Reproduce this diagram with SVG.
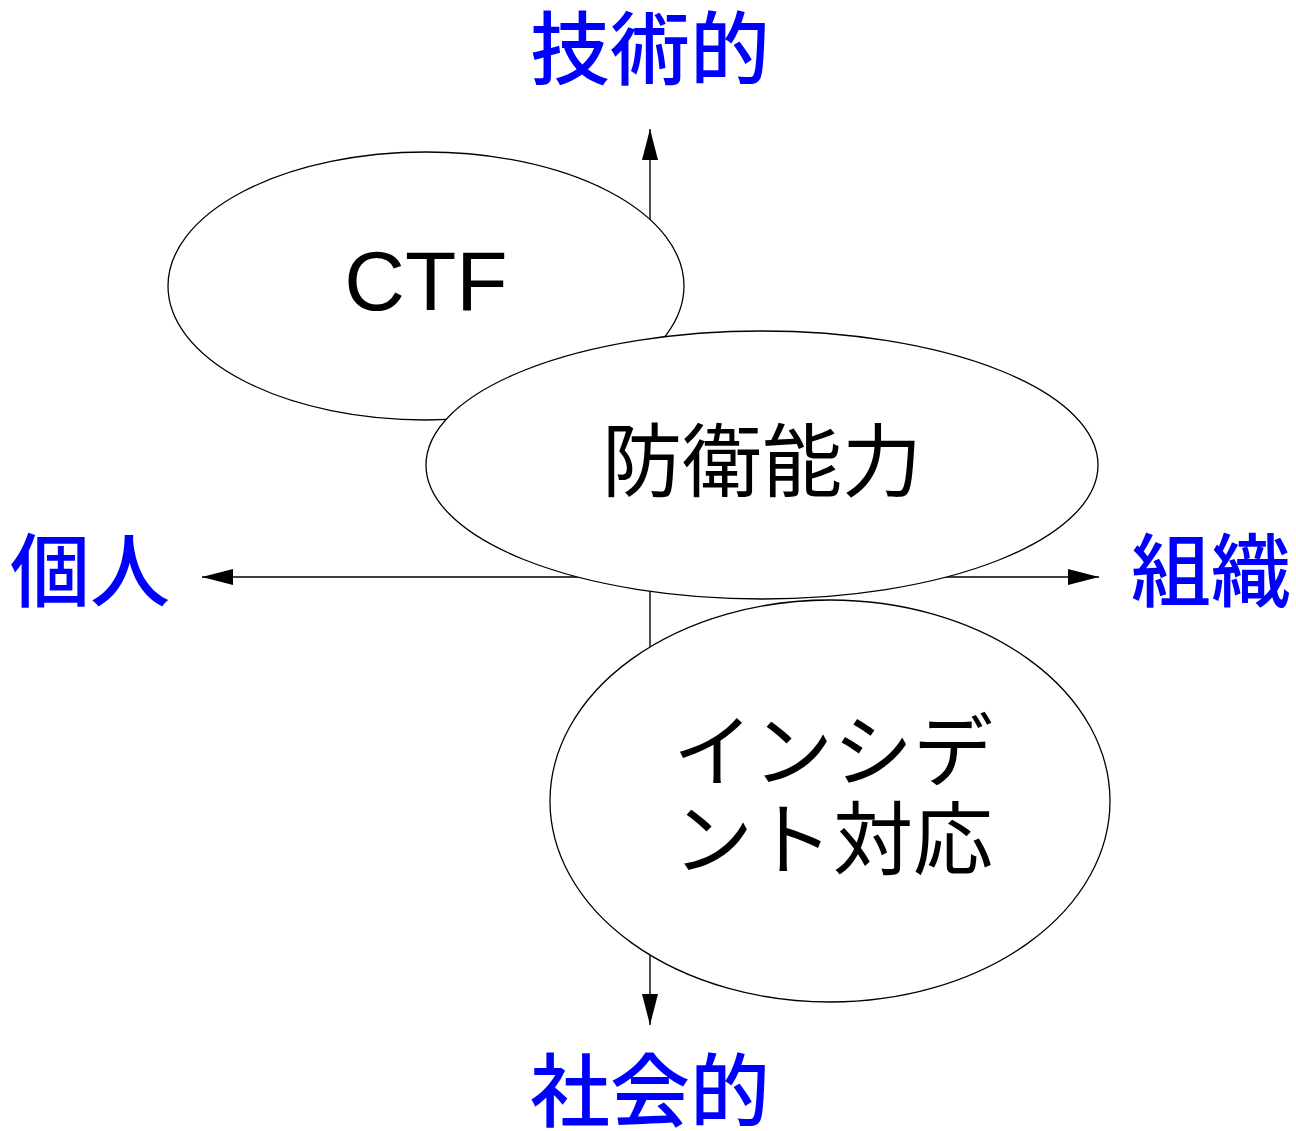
<svg xmlns="http://www.w3.org/2000/svg" width="1296" height="1131" viewBox="0 0 1296 1131">
<style>
.axis{stroke:#000;stroke-width:1.4;fill:none}
.node{fill:#fff;stroke:#000;stroke-width:1.3}
.lbl{font-family:"Noto Sans CJK JP","Liberation Sans",sans-serif;font-size:80px;fill:#000;text-anchor:middle}
.axl{font-family:"Noto Sans CJK JP","Liberation Sans",sans-serif;font-size:80px;font-weight:500;fill:#0000ff;text-anchor:middle}
.lat{font-family:"Liberation Sans",Arial,sans-serif;font-size:84px;fill:#000;text-anchor:middle}
</style>
<defs>
<marker id="ah" viewBox="0 0 31 16" refX="31" refY="8" markerWidth="31" markerHeight="16" markerUnits="userSpaceOnUse" orient="auto">
<path d="M0,0 L31,8 L0,16 Z" fill="#000"/>
</marker>
</defs>
<g id="connectors">
<line class="axis" x1="650" y1="577" x2="650" y2="129" marker-end="url(#ah)"/>
<line class="axis" x1="650" y1="577" x2="650" y2="1025" marker-end="url(#ah)"/>
<line class="axis" x1="650" y1="577" x2="202" y2="577" marker-end="url(#ah)"/>
<line class="axis" x1="650" y1="577" x2="1099" y2="577" marker-end="url(#ah)"/>
</g>
<g id="ctf">
<ellipse class="node" cx="426" cy="286" rx="258" ry="134"/>
<text class="lat" x="426" y="310">CTF</text>
</g>
<g id="defense">
<ellipse class="node" cx="762" cy="465" rx="336" ry="134"/>
<text class="lbl" x="762" y="490">防衛能力</text>
</g>
<g id="incident">
<ellipse class="node" cx="830" cy="801" rx="280" ry="201"/>
<text class="lbl" x="833" y="780">インシデ</text>
<text class="lbl" x="833" y="868">ント対応</text>
</g>
<g id="label-tech"><text class="axl" x="650" y="78">技術的</text></g>
<g id="label-social"><text class="axl" x="650" y="1120">社会的</text></g>
<g id="label-individual"><text class="axl" x="90" y="600">個人</text></g>
<g id="label-org"><text class="axl" x="1211" y="600">組織</text></g>
</svg>
